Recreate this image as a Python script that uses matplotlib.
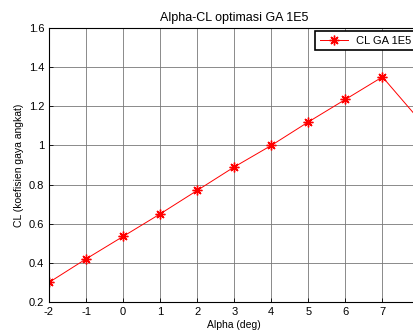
import matplotlib
matplotlib.use("Agg")
import matplotlib.pyplot as plt

# data
alpha = [-2, -1, 0, 1, 2, 3, 4, 5, 6, 7, 8]
cl = [0.30, 0.42, 0.535, 0.65, 0.77, 0.89, 1.00, 1.12, 1.235, 1.35, 1.13]
xticks = [-2, -1, 0, 1, 2, 3, 4, 5, 6, 7, 8]
xtick_labels = ["-2", "-1", "0", "1", "2", "3", "4", "5", "6", "7", ""]
yticks = [0.2, 0.4, 0.6, 0.8, 1.0, 1.2, 1.4, 1.6]
ytick_labels = ["0.2", "0.4", "0.6", "0.8", "1", "1.2", "1.4", "1.6"]

plt.rcParams['font.family'] = ['Liberation Sans', 'DejaVu Sans']
plt.rcParams['axes.unicode_minus'] = False

fig = plt.figure(figsize=(4.14, 3.33), dpi=100)
# axes runs past the right edge like the cropped original
ax = fig.add_axes([49 / 414, 31 / 333, 370.5 / 414, 274 / 333])

# MATLAB-style asterisk marker
ax.plot(alpha, cl, color='red', marker=(8, 2, 0), markersize=7,
        markeredgewidth=1.0, linewidth=0.7, label='CL GA 1E5')

ax.set_xlim(-2, 8)
ax.set_ylim(0.2, 1.6)
ax.set_xticks(xticks)
ax.set_xticklabels(xtick_labels)
ax.set_yticks(yticks)
ax.set_yticklabels(ytick_labels)
ax.tick_params(direction='in', labelsize=8, length=3, width=0.6)
ax.grid(True, color='#777777', linewidth=0.6)
for s in ax.spines.values():
    s.set_linewidth(0.8)

ax.set_title('Alpha-CL optimasi GA 1E5', fontsize=9, pad=5)
ax.set_xlabel('Alpha (deg)', fontsize=7.5, labelpad=2)
ax.set_ylabel('CL (koefisien gaya angkat)', fontsize=7.5, labelpad=3)

leg = ax.legend(loc='upper right', fontsize=8, fancybox=False, framealpha=1,
                edgecolor='black', borderaxespad=0.3, handlelength=2.5)
leg.get_frame().set_linewidth(1.2)

fig.savefig('out.png', dpi=100)
